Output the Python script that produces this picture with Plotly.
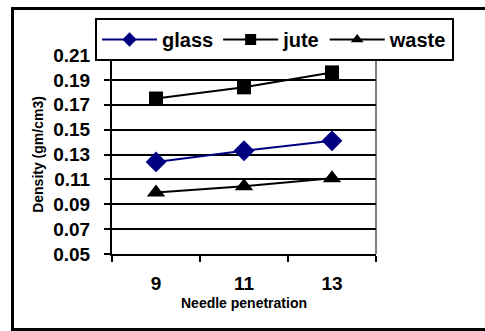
import plotly.graph_objects as go

# Needle penetration levels and measured densities (gm/cm3)
needle_penetration = ["9", "11", "13"]
glass = [0.124, 0.133, 0.141]
jute = [0.175, 0.184, 0.196]
waste = [0.0995, 0.1045, 0.111]

y_ticks = [0.05, 0.07, 0.09, 0.11, 0.13, 0.15, 0.17, 0.19, 0.21]

W, H = 485, 331
L, R, T, B = 112, 376, 55, 254  # plot area in pixels


def px_x(px):
    return (px - L) / (R - L)


def px_y(py):
    return (B - py) / (B - T)


FONT = "Liberation Sans, Arial, sans-serif"

series = [
    ("glass", glass, "#000080", "diamond", 16),
    ("jute", jute, "black", "square", 14),
    ("waste", waste, "black", "triangle-up", 16),
]

fig = go.Figure()
for name, vals, color, symbol, size in series:
    # data line with full-size markers
    fig.add_trace(go.Scatter(
        x=needle_penetration, y=vals, name=name, mode="lines+markers",
        line=dict(color=color, width=2),
        marker=dict(symbol=symbol, size=size, color=color),
        showlegend=False,
    ))
for name, vals, color, symbol, size in series:
    # legend entry with a smaller key marker
    fig.add_trace(go.Scatter(
        x=[None], y=[None], name=name, mode="lines+markers",
        line=dict(color=color, width=2),
        marker=dict(symbol=symbol, size=11, color=color),
        showlegend=True,
    ))

# outer chart frame: left, top and bottom edges, open on the right
frame_path = (
    f"M {px_x(12.5)},{px_y(330)} L {px_x(12.5)},{px_y(8.5)} L {px_x(W + 10)},{px_y(8.5)} "
    f"M {px_x(11)},{px_y(329.5)} L {px_x(W + 10)},{px_y(329.5)}"
)

fig.update_layout(
    width=W, height=H,
    margin=dict(l=L, r=W - R, t=T, b=H - B, pad=0),
    paper_bgcolor="white", plot_bgcolor="white",
    font=dict(family=FONT, color="black", size=19, weight="bold"),
    showlegend=True,
    legend=dict(
        orientation="h", x=px_x(95), y=px_y(18), xanchor="left", yanchor="top",
        bgcolor="white", bordercolor="black", borderwidth=2,
        font=dict(family=FONT, size=20, weight="bold", color="black"),
        itemwidth=55, tracegroupgap=0,
    ),
    xaxis=dict(
        type="category", range=[-0.5, 2.5],
        showgrid=False, showline=True, linecolor="black", linewidth=2,
        ticks="outside", tickson="boundaries", ticklen=6, tickwidth=2, tickcolor="black",
        tickfont=dict(family=FONT, size=19, weight="bold"),
        ticklabelstandoff=11,
        title=dict(text="Needle penetration", standoff=5,
                   font=dict(family=FONT, size=14, weight="bold")),
        mirror=False, zeroline=False,
    ),
    yaxis=dict(
        range=[0.05, 0.21], tickvals=y_ticks, tickformat=".2f",
        showgrid=True, gridcolor="black", gridwidth=2,
        showline=True, linecolor="black", linewidth=2,
        ticks="outside", ticklen=6, tickwidth=2, tickcolor="black",
        tickfont=dict(family=FONT, size=19, weight="bold"),
        ticklabelstandoff=10,
        title=dict(text="Density (gm/cm3)", standoff=6,
                   font=dict(family=FONT, size=14, weight="bold")),
        zeroline=False,
    ),
    shapes=[
        # grey plot-area frame on the right
        dict(type="line", xref="paper", yref="paper", x0=1, x1=1, y0=0, y1=1,
             line=dict(color="#808080", width=2), layer="below"),
        dict(type="path", xref="paper", yref="paper", path=frame_path,
             line=dict(color="black", width=3), fillcolor="rgba(0,0,0,0)",
             layer="above"),
    ],
)

fig.write_html("out.html", config={"displayModeBar": False})
